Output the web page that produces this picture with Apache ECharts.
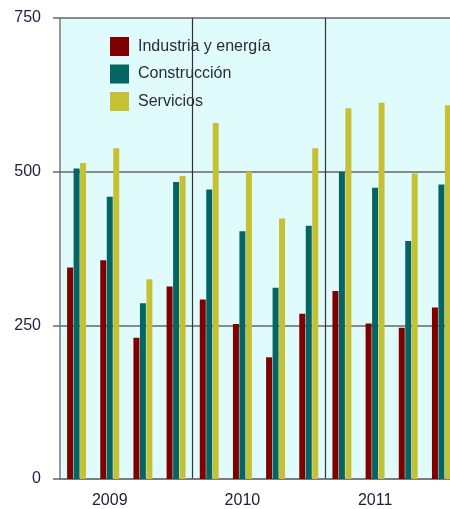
<!DOCTYPE html>
<html>
<head>
<meta charset="utf-8">
<script src="https://cdn.jsdelivr.net/npm/echarts@6/dist/echarts.min.js"></script>
<style>
html,body{margin:0;padding:0;background:#fff;overflow:hidden;}
#c{width:458px;height:509px;}
</style>
</head>
<body>
<div id="c"></div>
<script>
var years = ['2009', '2010', '2011'];
var quarters = ['2009 T1','2009 T2','2009 T3','2009 T4','2010 T1','2010 T2','2010 T3','2010 T4','2011 T1','2011 T2','2011 T3','2011 T4'];
var seriesNames = ['Industria y energía', 'Construcción', 'Servicios'];
var industria = [344, 356, 230, 313, 292, 252, 198, 269, 306, 253, 246, 279];
var construccion = [505, 459, 286, 483, 471, 403, 311, 412, 500, 474, 387, 479];
var servicios = [514, 538, 325, 493, 579, 500, 424, 538, 603, 612, 497, 608];
var yTicks = [0, 250, 500, 750];

var colors = ['#800000', '#056563', '#c4c234'];
var font = 'Liberation Sans, Arial, sans-serif';
var chart = echarts.init(document.getElementById('c'), null, {renderer: 'canvas'});
function bar(name, data, color) {
  return {
    name: name, type: 'bar', data: data, barWidth: 6, barGap: '8%',
    itemStyle: {color: color}
  };
}
chart.setOption({
  animation: false,
  color: colors,
  legend: {
    orient: 'vertical', left: 110, top: 37, padding: 0,
    itemWidth: 19, itemHeight: 19, itemGap: 8.5, icon: 'rect',
    textStyle: {fontFamily: font, fontSize: 16, color: '#2b2b3b', padding: [0, 0, 0, 4]},
    data: seriesNames
  },
  grid: {
    left: 60, top: 18, right: 0, bottom: 30,
    show: true, backgroundColor: '#e0fbfc', borderWidth: 0
  },
  xAxis: {
    type: 'category', data: quarters,
    axisLine: {show: true, lineStyle: {color: '#777', width: 1.5}},
    axisTick: {show: false},
    axisLabel: {
      interval: function (i) { return i % 4 === 1; },
      formatter: function (v, i) { return years[Math.floor(i / 4)]; },
      fontFamily: font, fontSize: 16, color: '#222233', margin: 14
    },
    splitLine: {
      show: true,
      interval: function (i) { return i % 4 === 0 && i > 0; },
      lineStyle: {color: '#333', width: 1.2}
    }
  },
  yAxis: {
    type: 'value', min: 0, max: 750, interval: 250,
    axisLine: {show: true, lineStyle: {color: '#777', width: 1.5}},
    axisTick: {show: true, length: 7, lineStyle: {color: '#666', width: 1.5}},
    axisLabel: {
      fontFamily: font, fontSize: 16, color: '#222244', margin: 19,
      formatter: function (v) { return yTicks.indexOf(v) >= 0 ? String(v) : ''; }
    },
    splitLine: {show: true, lineStyle: {color: '#666', width: 1.5}}
  },
  series: [
    bar(seriesNames[0], industria, colors[0]),
    bar(seriesNames[1], construccion, colors[1]),
    bar(seriesNames[2], servicios, colors[2])
  ]
});
</script>
</body>
</html>
